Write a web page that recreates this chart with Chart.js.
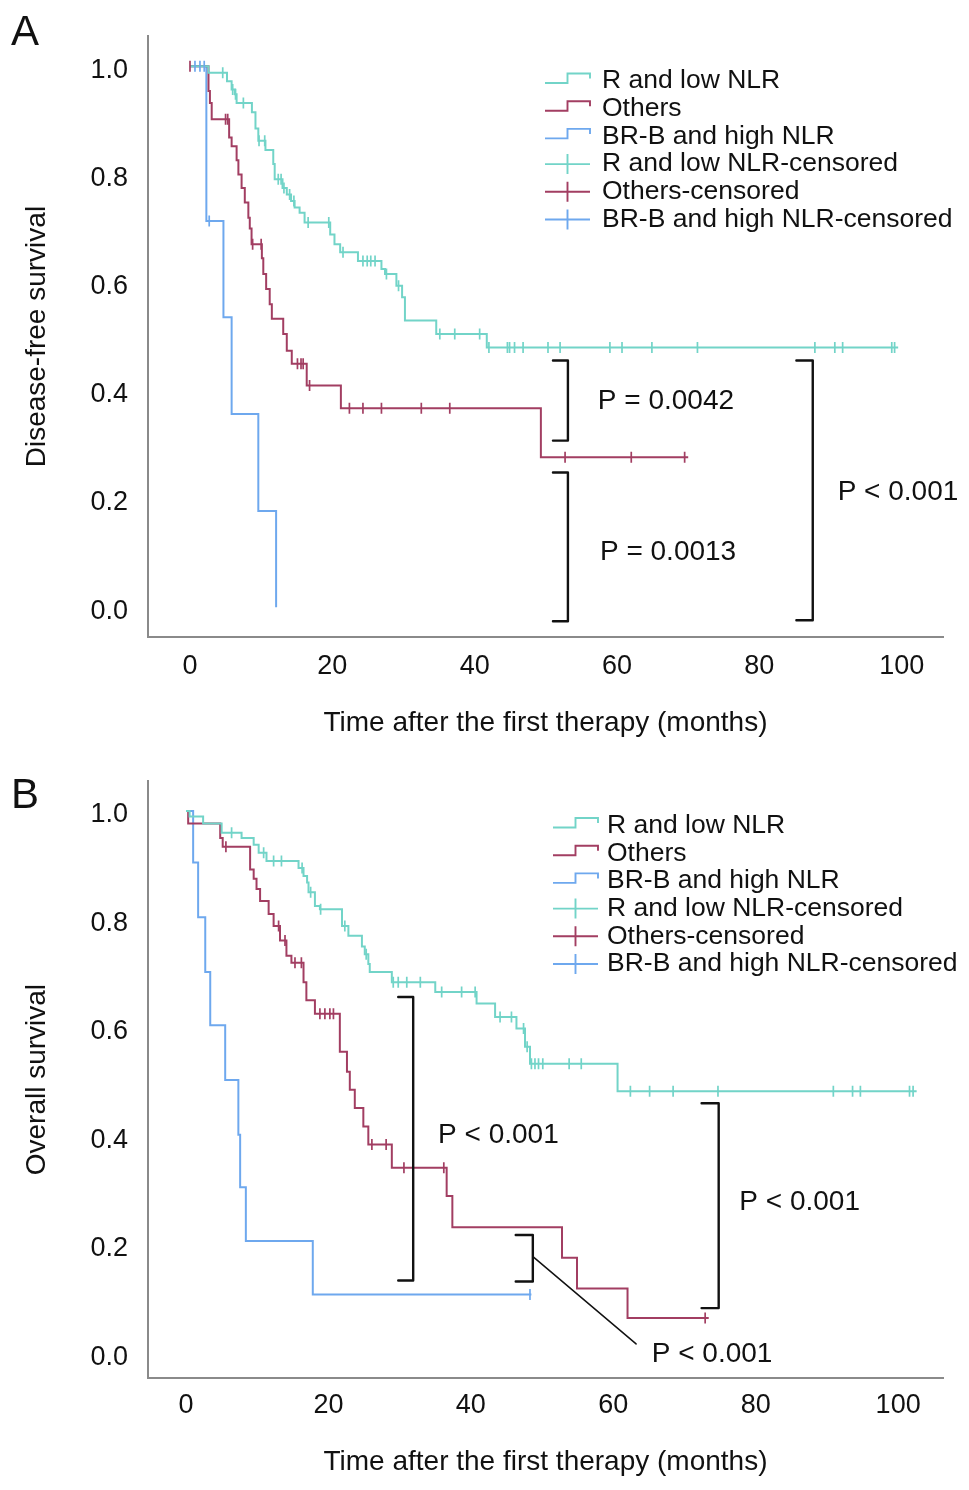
<!DOCTYPE html>
<html>
<head>
<meta charset="utf-8">
<script src="https://cdn.jsdelivr.net/npm/chart.js@4.4.1/dist/chart.umd.min.js"></script>
<style>
  body { margin: 0; background: #fff; }
  .panel { position: absolute; left: 0; width: 969px; height: 745px; }
</style>
</head>
<body>
<div class="panel" style="top:0"><canvas id="chartA" width="969" height="745"></canvas></div>
<div class="panel" style="top:745px"><canvas id="chartB" width="969" height="745"></canvas></div>
<script>
// ---- shared axes / labels ----
const xTicks = [0, 20, 40, 60, 80, 100];
const yTicks = [0, 0.2, 0.4, 0.6, 0.8, 1.0];
const groupNames = ['R and low NLR', 'Others', 'BR-B and high NLR'];
const censoredNames = ['R and low NLR-censored', 'Others-censored', 'BR-B and high NLR-censored'];
const xTitle = 'Time after the first therapy (months)';

// ---- A: disease-free survival ----
const dfsLowT = [0, 2.6, 5.2, 5.85, 6.3, 6.55, 8.7, 9.2, 9.6, 10.6, 11.7, 11.9, 13.0, 13.6, 14.2, 14.7, 15.4, 16.1, 19.7, 20.3, 21.1, 23.6, 26.9, 27.4, 29.0, 29.8, 30.2, 34.6, 41.7, 99.5];
const dfsLowS = [1.0, 0.988, 0.972, 0.957, 0.948, 0.932, 0.915, 0.885, 0.862, 0.845, 0.819, 0.791, 0.775, 0.763, 0.751, 0.739, 0.729, 0.711, 0.689, 0.671, 0.656, 0.640, 0.625, 0.616, 0.594, 0.573, 0.530, 0.505, 0.480, 0.480];
const dfsLowC = [4.6, 6.0, 6.4, 7.5, 9.7, 10.5, 12.4, 12.8, 13.2, 14.0, 14.6, 16.6, 19.5, 21.5, 24.3, 24.9, 25.4, 26.0, 27.6, 29.3, 35.1, 37.2, 40.7, 42.0, 44.6, 44.9, 45.6, 46.8, 50.3, 52.0, 59.0, 60.7, 64.9, 71.3, 87.8, 90.6, 91.7, 98.6, 99.0];

const dfsOthT = [0, 2.6, 2.8, 3.05, 5.5, 5.85, 6.55, 6.8, 7.25, 7.7, 8.2, 8.4, 8.65, 10.1, 10.3, 10.7, 11.2, 11.5, 13.1, 13.6, 14.3, 16.4, 21.2, 49.3, 70.0];
const dfsOthS = [1.0, 0.954, 0.932, 0.902, 0.868, 0.852, 0.826, 0.800, 0.775, 0.748, 0.720, 0.700, 0.671, 0.645, 0.616, 0.588, 0.560, 0.533, 0.505, 0.474, 0.450, 0.410, 0.368, 0.277, 0.277];
const dfsOthC = [0, 5.0, 5.3, 8.8, 10.0, 15.1, 15.6, 15.9, 16.8, 22.4, 24.3, 26.9, 32.5, 36.5, 52.7, 62.0, 69.5];

const dfsHighT = [0, 2.3, 4.7, 5.85, 9.6, 12.1];
const dfsHighS = [1.0, 0.714, 0.536, 0.357, 0.178, 0.0];
const dfsHighC = [0.7, 1.4, 2.0, 2.7];

const pLabelsA = ['P = 0.0042', 'P = 0.0013', 'P < 0.001'];

// ---- B: overall survival ----
const osLowT = [0, 0.5, 2.4, 5.0, 7.8, 9.5, 10.2, 11.3, 15.8, 16.5, 17.0, 17.2, 18.1, 18.8, 21.9, 22.8, 24.7, 25.1, 25.6, 25.8, 28.9, 35.0, 40.8, 43.4, 46.4, 47.6, 48.3, 60.6, 102.6];
const osLowS = [1.0, 0.990, 0.977, 0.960, 0.950, 0.938, 0.923, 0.908, 0.895, 0.880, 0.868, 0.850, 0.825, 0.819, 0.788, 0.770, 0.750, 0.736, 0.718, 0.703, 0.684, 0.666, 0.645, 0.620, 0.599, 0.565, 0.534, 0.483, 0.483];
const osLowC = [6.4, 10.9, 12.3, 13.4, 16.3, 17.5, 18.9, 22.3, 25.3, 29.1, 29.8, 31.0, 32.9, 35.9, 38.7, 40.6, 44.1, 45.7, 47.4, 47.9, 48.5, 49.0, 49.5, 50.1, 53.8, 55.5, 62.4, 65.1, 68.4, 74.7, 90.9, 93.6, 94.7, 101.6, 102.1];

const osOthT = [0, 0.3, 4.8, 5.15, 9.0, 9.5, 9.9, 10.4, 11.6, 12.3, 13.2, 14.1, 14.8, 16.5, 16.9, 18.1, 21.6, 22.6, 23.0, 23.7, 24.9, 25.6, 28.9, 36.6, 37.4, 52.8, 54.9, 62.0, 73.4];
const osOthS = [1.0, 0.977, 0.950, 0.934, 0.892, 0.875, 0.856, 0.834, 0.810, 0.788, 0.761, 0.733, 0.720, 0.684, 0.651, 0.626, 0.556, 0.519, 0.486, 0.452, 0.418, 0.385, 0.342, 0.290, 0.232, 0.176, 0.119, 0.065, 0.065];
const osOthC = [5.6, 13.0, 13.9, 15.3, 16.2, 18.8, 19.5, 20.2, 20.7, 26.1, 28.1, 30.6, 36.2, 72.9];

const osHighT = [0.3, 1.0, 1.7, 2.7, 3.4, 5.5, 7.35, 7.6, 8.4, 17.8, 48.5];
const osHighS = [1.0, 0.905, 0.804, 0.703, 0.605, 0.504, 0.403, 0.306, 0.207, 0.108, 0.108];
const osHighC = [48.3];

const pLabelsB = ['P < 0.001', 'P < 0.001', 'P < 0.001'];

const colors = ['#72d4c8', '#a23e62', '#6ea8ee'];
const FONT = '"Liberation Sans", Arial, Helvetica, sans-serif';

// survival value in force at time t (step function lookup)
function stepAt(ts, ss, t) {
    let v = ss[0];
    for (let i = 0; i < ts.length; i++) if (ts[i] <= t) v = ss[i];
    return v;
}

function curveSet(ts, ss, cs, color, name) {
    return [
        {
            type: 'line', label: name, order: 1,
            data: ts.map((t, i) => ({ x: t, y: ss[i] })),
            stepped: 'before', borderColor: color, borderWidth: 2,
            pointRadius: 0, fill: false
        },
        {
            type: 'scatter', label: name + '-censored', order: 0,
            data: cs.map(t => ({ x: t, y: stepAt(ts, ss, t) })),
            pointStyle: 'line', rotation: 90, radius: 5.5,
            borderColor: color, borderWidth: 1.7
        }
    ];
}

// brackets, p-values, legend and panel letter
function notesPlugin(cfg) {
    return {
        id: 'kmNotes',
        afterDatasetsDraw(chart) {
            const { ctx, scales: { x, y } } = chart;
            const px = v => x.getPixelForValue(v);
            const py = v => y.getPixelForValue(v);
            ctx.save();
            ctx.strokeStyle = '#111';
            ctx.lineJoin = 'round';
            ctx.lineCap = 'round';
            ctx.lineWidth = 2.4;
            cfg.brackets.forEach(b => {
                ctx.beginPath();
                ctx.moveTo(px(b.arm), py(b.y1));
                ctx.lineTo(px(b.x), py(b.y1));
                ctx.lineTo(px(b.x), py(b.y2));
                ctx.lineTo(px(b.arm), py(b.y2));
                ctx.stroke();
            });
            ctx.lineWidth = 1.5;
            (cfg.pointers || []).forEach(p => {
                ctx.beginPath();
                ctx.moveTo(px(p[0]), py(p[1]));
                ctx.lineTo(px(p[2]), py(p[3]));
                ctx.stroke();
            });
            ctx.fillStyle = '#111';
            ctx.font = '28px ' + FONT;
            ctx.textBaseline = 'middle';
            ctx.textAlign = 'left';
            cfg.texts.forEach((t, i) => ctx.fillText(cfg.labels[i], px(t.x), py(t.y)));

            // legend
            const L = cfg.legend;
            ctx.font = '26.5px ' + FONT;
            ctx.lineWidth = 1.9;
            ctx.lineCap = 'butt';
            ctx.lineJoin = 'miter';
            groupNames.concat(censoredNames).forEach((name, i) => {
                const cy = L.y + i * L.step;
                const xm = (L.x0 + L.x1) / 2;
                ctx.strokeStyle = colors[i % 3];
                ctx.beginPath();
                if (i < 3) {
                    ctx.moveTo(L.x0, cy + 2);
                    ctx.lineTo(xm, cy + 2);
                    ctx.lineTo(xm, cy - 7.5);
                    ctx.lineTo(L.x1, cy - 7.5);
                    ctx.lineTo(L.x1, cy - 2.5);
                } else {
                    ctx.moveTo(L.x0, cy);
                    ctx.lineTo(L.x1, cy);
                    ctx.moveTo(xm, cy - 10);
                    ctx.lineTo(xm, cy + 10);
                }
                ctx.stroke();
                ctx.fillStyle = '#111';
                ctx.fillText(name, L.tx, cy);
            });

            ctx.font = '42px ' + FONT;
            ctx.textBaseline = 'alphabetic';
            ctx.fillText(cfg.letter, 11, cfg.letterY);
            ctx.restore();
        }
    };
}

function makeChart(id, sets, yTitle, geom, notes) {
    const datasets = [];
    sets.forEach((s, i) => datasets.push(...curveSet(s[0], s[1], s[2], colors[i], groupNames[i])));
    return new Chart(document.getElementById(id), {
        data: { datasets },
        options: {
            responsive: false,
            animation: false,
            events: [],
            layout: { padding: { top: geom.top, right: 26, left: 0, bottom: 0 } },
            plugins: { legend: { display: false }, tooltip: { enabled: false } },
            scales: {
                x: {
                    type: 'linear', min: geom.xmin, max: geom.xmax,
                    afterBuildTicks: s => { s.ticks = xTicks.map(v => ({ value: v })); },
                    afterFit: s => { s.height = geom.xh; },
                    grid: { display: false, drawTicks: false },
                    border: { display: true, color: '#8a8a8a', width: 2 },
                    ticks: { padding: geom.tickPad, color: '#111', font: { family: FONT, size: 27 }, callback: v => String(v) },
                    title: { display: true, text: xTitle, color: '#111', font: { family: FONT, size: 28 }, padding: { top: 0, bottom: geom.titlePad } }
                },
                y: {
                    type: 'linear', min: geom.ymin, max: geom.ymax,
                    afterBuildTicks: s => { s.ticks = yTicks.map(v => ({ value: v })); },
                    afterFit: s => { s.width = 148; },
                    grid: { display: false, drawTicks: false },
                    border: { display: true, color: '#8a8a8a', width: 2 },
                    ticks: { padding: 20, labelOffset: geom.labelOffset, color: '#111', font: { family: FONT, size: 27 }, callback: v => v.toFixed(1) },
                    title: { display: true, text: yTitle, color: '#111', font: { family: FONT, size: 28 }, padding: { top: 20, bottom: 0 } }
                }
            }
        },
        plugins: [notesPlugin(notes)]
    });
}

makeChart('chartA',
    [[dfsLowT, dfsLowS, dfsLowC], [dfsOthT, dfsOthS, dfsOthC], [dfsHighT, dfsHighS, dfsHighC]],
    'Disease-free survival',
    { top: 35, xmin: -5.9, xmax: 105.8, ymin: -0.055, ymax: 1.0554, xh: 108, tickPad: 13, titlePad: 5, labelOffset: 4 },
    {
        letter: 'A', letterY: 45, labels: pLabelsA,
        brackets: [
            { x: 53.1, arm: 51.0, y1: 0.456, y2: 0.308 },
            { x: 53.1, arm: 51.0, y1: 0.249, y2: -0.026 },
            { x: 87.5, arm: 85.2, y1: 0.456, y2: -0.024 }
        ],
        texts: [{ x: 57.3, y: 0.381 }, { x: 57.6, y: 0.102 }, { x: 91.0, y: 0.213 }],
        legend: { x0: 545, x1: 590, tx: 602, y: 81, step: 27.7 }
    });

makeChart('chartB',
    [[osLowT, osLowS, osLowC], [osOthT, osOthS, osOthC], [osHighT, osHighS, osHighC]],
    'Overall survival',
    { top: 33, xmin: -5.34, xmax: 106.3, ymin: -0.0459, ymax: 1.055, xh: 112, tickPad: 11, titlePad: 11, labelOffset: 4 },
    {
        letter: 'B', letterY: 63, labels: pLabelsB,
        brackets: [
            { x: 31.9, arm: 29.8, y1: 0.657, y2: 0.134 },
            { x: 48.7, arm: 46.3, y1: 0.218, y2: 0.132 },
            { x: 74.8, arm: 72.4, y1: 0.461, y2: 0.083 }
        ],
        pointers: [[48.8, 0.177, 63.2, 0.017]],
        texts: [{ x: 35.4, y: 0.401 }, { x: 65.4, y: -0.003 }, { x: 77.7, y: 0.278 }],
        legend: { x0: 553, x1: 598, tx: 607, y: 80.5, step: 27.7 }
    });
</script>
</body>
</html>
